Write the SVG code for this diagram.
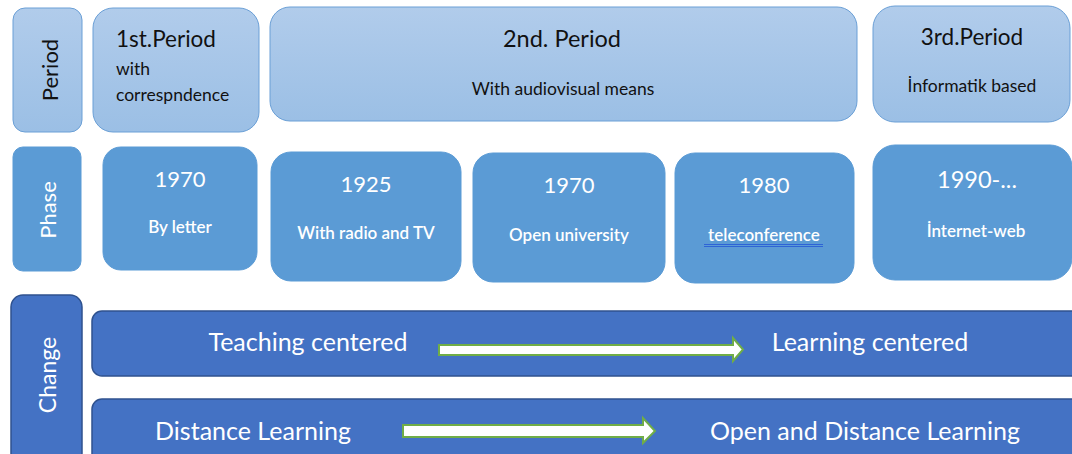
<svg xmlns="http://www.w3.org/2000/svg" width="1072" height="454" viewBox="0 0 1072 454">
<defs>
<linearGradient id="pg" x1="0" y1="0" x2="0" y2="1">
<stop offset="0" stop-color="#B1CCEB"/>
<stop offset="1" stop-color="#9BBFE5"/>
</linearGradient>
<style>
text{font-family:Lato,"Open Sans","Liberation Sans",sans-serif}
.per{fill:url(#pg);stroke:#6A9FD6;stroke-width:1}
.pha{fill:#5B9BD5;stroke:#5B9BD5;stroke-width:1}
.chg{fill:#4472C4;stroke:#2F528F;stroke-width:1.5}
.dk{fill:#111}
.wh{fill:#fff}
.sm{font-size:17.5px}
.ph{font-size:17px;font-weight:600}
.arr{fill:#fff;stroke:#70AD47;stroke-width:2}
</style>
</defs>
<rect width="1072" height="454" fill="#fff"/>
<g id="period-label"><rect class="per" x="13" y="8" width="69" height="124" rx="12"/><text class="dk" transform="translate(58,70) rotate(-90)" text-anchor="middle" font-size="22">Period</text></g>
<g id="period1"><rect class="per" x="93" y="8" width="166" height="124" rx="20"/><text class="dk" x="116" y="47" font-size="22.5">1st.Period</text><text class="dk sm" x="116" y="75">with</text><text class="dk sm" x="116" y="101">correspndence</text></g>
<g id="period2"><rect class="per" x="270" y="7" width="587" height="114" rx="20"/><text class="dk" x="562" y="47" font-size="23.5" text-anchor="middle">2nd. Period</text><text class="dk sm" x="563" y="95" text-anchor="middle">With audiovisual means</text></g>
<g id="period3"><rect class="per" x="873" y="6" width="197" height="116" rx="22"/><text class="dk" x="972" y="45" font-size="22.5" text-anchor="middle">3rd.Period</text><text class="dk sm" x="972" y="92" text-anchor="middle">İnformatik based</text></g>
<g id="phase-label"><rect class="pha" x="13" y="147" width="68" height="124" rx="10"/><text class="wh" transform="translate(56,210) rotate(-90)" text-anchor="middle" font-size="22">Phase</text></g>
<g id="phase1"><rect class="pha" x="103" y="147" width="154" height="123" rx="18"/><text class="wh" x="180" y="187" font-size="22" text-anchor="middle">1970</text><text class="wh ph" x="180" y="233" text-anchor="middle">By letter</text></g>
<g id="phase2"><rect class="pha" x="271" y="152" width="190" height="129" rx="20"/><text class="wh" x="366" y="192" font-size="22" text-anchor="middle">1925</text><text class="wh ph" x="366" y="239" text-anchor="middle">With radio and TV</text></g>
<g id="phase3"><rect class="pha" x="473" y="153" width="192" height="129" rx="20"/><text class="wh" x="569" y="193" font-size="22" text-anchor="middle">1970</text><text class="wh ph" x="569" y="241" text-anchor="middle">Open university</text></g>
<g id="phase4"><rect class="pha" x="675" y="153" width="179" height="130" rx="20"/><text class="wh" x="764" y="193" font-size="22" text-anchor="middle">1980</text><text class="wh ph" x="764" y="241" text-anchor="middle">teleconference</text><line x1="704" y1="244.5" x2="823" y2="244.5" stroke="#2E64D6" stroke-width="1.2"/><line x1="704" y1="246.5" x2="823" y2="246.5" stroke="#2E64D6" stroke-width="1"/></g>
<g id="phase5"><rect class="pha" x="873" y="145" width="199" height="135" rx="22"/><text class="wh" x="977" y="188" font-size="23.5" text-anchor="middle">1990-...</text><text class="wh ph" x="976" y="237" text-anchor="middle">İnternet-web</text></g>
<g id="change-label"><rect class="chg" x="11" y="295" width="71" height="170" rx="12"/><text class="wh" transform="translate(56,375) rotate(-90)" text-anchor="middle" font-size="23">Change</text></g>
<g id="change1"><rect class="chg" x="92" y="311" width="990" height="65" rx="10"/><text class="wh" x="308" y="351" font-size="25" text-anchor="middle">Teaching centered</text><text class="wh" x="870" y="351" font-size="25" text-anchor="middle">Learning centered</text></g>
<g id="change2"><rect class="chg" x="92" y="399" width="990" height="70" rx="10"/><text class="wh" x="253" y="440" font-size="25" text-anchor="middle">Distance Learning</text><text class="wh" x="865" y="440" font-size="25" text-anchor="middle">Open and Distance Learning</text></g>
<g id="connectors">
<path class="arr" d="M439,345 L733,345 L733,338 L743,349.5 L733,361 L733,355 L439,355 Z"/>
<path class="arr" d="M403,425 L643,425 L643,418 L655,431 L643,443 L643,437 L403,437 Z"/>
</g>
</svg>
